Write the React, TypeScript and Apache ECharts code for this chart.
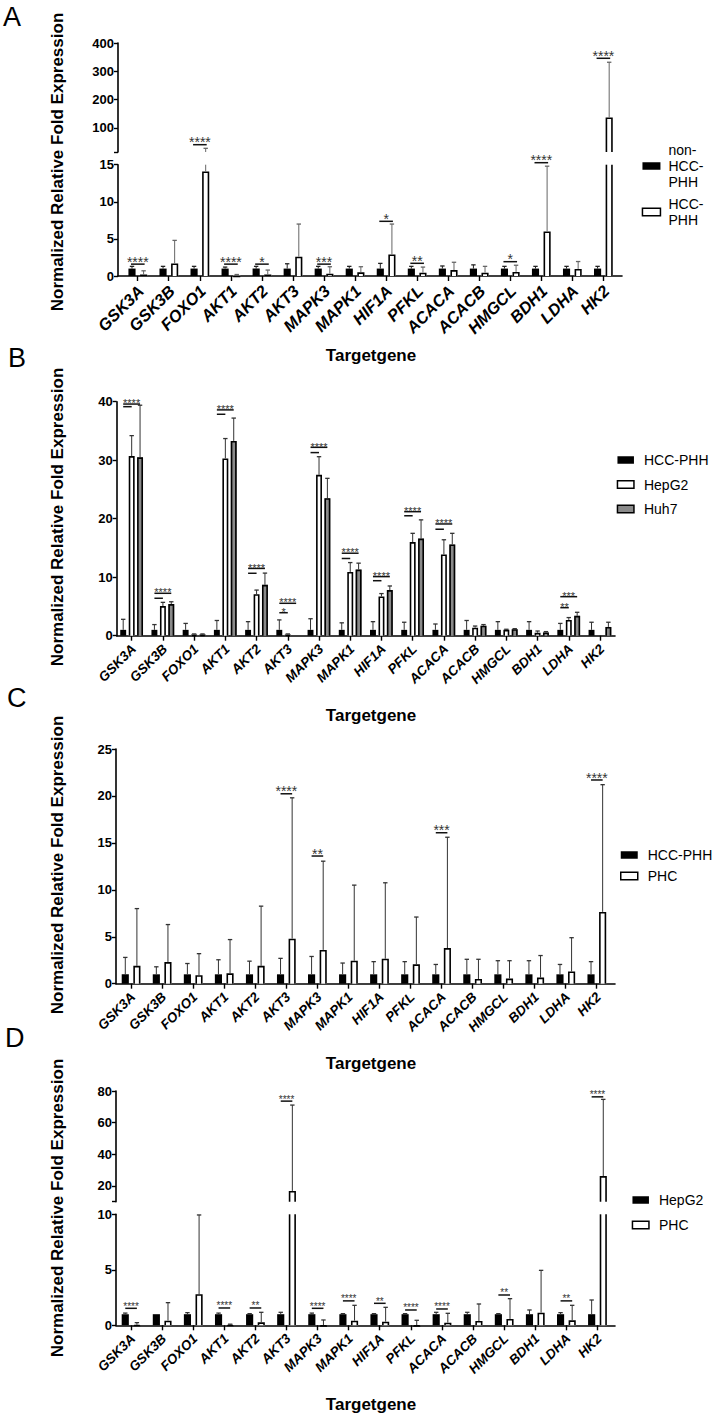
import React, { useEffect, useRef } from 'react';
import * as echarts from 'echarts';

const categories = ['GSK3A', 'GSK3B', 'FOXO1', 'AKT1', 'AKT2', 'AKT3', 'MAPK3', 'MAPK1', 'HIF1A', 'PFKL', 'ACACA', 'ACACB', 'HMGCL', 'BDH1', 'LDHA', 'HK2'];

// ---------- Panel A ----------
const aNonHccMean = [1, 1, 1, 1, 1, 1, 1, 1, 1, 1, 1, 1, 1, 1, 1, 1];
const aNonHccErr = [1.3, 1.3, 1.3, 1.2, 1.3, 1.65, 1.3, 1.3, 1.7, 1.3, 1.35, 1.5, 1.3, 1.3, 1.3, 1.3];
const aHccMean = [0.2, 1.7, 14.1, 0.05, 0.2, 2.6, 0.3, 0.5, 2.9, 0.45, 0.8, 0.45, 0.55, 6.0, 0.95, 137];
const aHccErr = [0.7, 4.8, 28, 0.2, 0.8, 7.0, 1.25, 1.25, 7.0, 1.2, 1.85, 1.3, 1.45, 14.8, 1.95, 332];
const aSigLower: [number, number, string][] = [[0, 1.6, '****'], [3, 1.6, '****'], [4, 1.6, '*'], [6, 1.6, '***'], [8, 7.37, '*'], [9, 1.71, '**'], [12, 1.93, '*'], [13, 15.27, '****']];
const aSigUpper: [number, number, string][] = [[2, 40.8, '****'], [15, 346, '****']];
const aUpperTicks = [15, 100, 200, 300, 400];
const aUpperLabels = [100, 200, 300, 400];

// ---------- Panel B ----------
const bHccMean = [1, 1, 1, 1, 1, 1, 1, 1, 1, 1, 1, 1, 1, 1, 1, 1];
const bHccErr = [2.8, 1.9, 2.1, 2.6, 2.4, 2.7, 2.9, 2.2, 2.4, 2.3, 2.0, 2.6, 2.4, 2.4, 2.1, 2.3];
const bHepMean = [30.7, 5.07, 0.2, 30.3, 7.1, 0.2, 27.5, 10.9, 6.7, 16.0, 13.9, 1.37, 1.0, 0.5, 2.7, 0];
const bHepErr = [34.2, 5.7, 0.3, 33.7, 7.8, 0.3, 30.6, 12.5, 7.2, 17.5, 16.4, 1.65, 1.1, 0.8, 3.1, 0];
const bHuhMean = [30.5, 5.4, 0.2, 33.3, 8.7, 0, 23.5, 11.3, 7.8, 16.6, 15.6, 1.7, 1.1, 0.55, 3.4, 1.5];
const bHuhErr = [39.4, 5.8, 0.3, 37.2, 10.7, 0, 26.9, 12.4, 8.5, 19.8, 17.5, 1.9, 1.2, 0.7, 4.0, 2.3];
const bSig: [number, number, string, number][] = [
  [0, 39.6, '****', 2], [0, 39.15, '', 1],
  [1, 7.25, '****', 2], [1, 6.4, '', 1],
  [3, 38.6, '****', 2], [3, 37.85, '', 1],
  [4, 11.5, '****', 2], [4, 10.67, '', 1],
  [5, 5.54, '****', 2], [5, 3.93, '*', 1],
  [6, 32.2, '****', 2], [6, 31.3, '', 1],
  [7, 14.1, '****', 2], [7, 13.2, '', 1],
  [8, 10.1, '****', 2], [8, 9.4, '', 1],
  [9, 21.2, '****', 2], [9, 20.5, '', 1],
  [10, 19.1, '****', 2], [10, 18.2, '', 1],
  [14, 6.67, '***', 2], [14, 4.79, '**', 1],
];

// ---------- Panel C ----------
const cHccMean = [1, 1, 1, 1, 1, 1, 1, 1, 1, 1, 1, 1, 1, 1, 1, 1];
const cHccErr = [2.8, 1.8, 2.15, 2.55, 2.4, 2.7, 2.9, 2.2, 2.35, 2.35, 2.05, 2.6, 2.45, 2.45, 2.05, 2.35];
const cPhcMean = [1.9, 2.3, 0.9, 1.1, 1.9, 4.8, 3.6, 2.45, 2.66, 2.06, 3.8, 0.5, 0.55, 0.65, 1.3, 7.65];
const cPhcErr = [8.0, 6.3, 3.2, 4.7, 8.26, 19.8, 13.05, 10.5, 10.75, 7.1, 15.6, 2.6, 2.45, 3.0, 4.9, 21.2];
const cSig: [number, number, string][] = [[5, 20.23, '****'], [6, 13.6, '**'], [10, 16.08, '***'], [15, 21.7, '****']];

// ---------- Panel D ----------
const dHepMean = [1, 1, 1, 1, 1, 1, 1, 1, 1, 1, 1, 1, 1, 1, 1, 1];
const dHepErr = [1.1, 1.0, 1.14, 1.1, 1.05, 1.17, 1.1, 1.05, 1.05, 1.05, 1.17, 1.17, 1.05, 1.38, 1.14, 2.28];
const dPhcMean = [0.05, 0.42, 2.8, 0.05, 0.27, 16.8, 0.02, 0.42, 0.33, 0.02, 0.24, 0.39, 0.57, 1.14, 0.45, 26.2];
const dPhcErr = [0.24, 2.04, 9.94, 0.1, 1.17, 71.1, 0.48, 1.8, 1.62, 0.45, 1.08, 1.92, 2.4, 4.95, 1.8, 74.7];
const dSigLower: [number, number, string][] = [[0, 1.53, '****'], [3, 1.56, '****'], [4, 1.56, '**'], [6, 1.53, '****'], [7, 2.2, '****'], [8, 1.98, '**'], [9, 1.38, '****'], [10, 1.47, '****'], [12, 2.73, '**'], [14, 2.2, '**']];
const dSigUpper: [number, number, string][] = [[5, 73.6, '****'], [15, 76.3, '****']];
const dUpperTicks = [10, 20, 40, 60, 80];
const dUpperLabels = [20, 40, 60, 80];

const legendLabels: Record<string, string> = {
  A_non: 'non-\nHCC-\nPHH', A_hcc: 'HCC-\nPHH',
  B_hcc: 'HCC-PHH', B_hep: 'HepG2', B_huh: 'Huh7',
  C_hcc: 'HCC-PHH', C_phc: 'PHC',
  D_hep: 'HepG2', D_phc: 'PHC',
};

const yTitle = 'Normalized Relative Fold Expression';
const xTitle = 'Targetgene';
const panelLetters = ['A', 'B', 'C', 'D'];

const FONT = '"Liberation Sans", Arial, Helvetica, sans-serif';
const BLACK = '#000';
const WHITE = '#fff';
const GRAY = '#8a8a8a';
const catIdx = categories.map((_, i) => i);

function barSeries(name: string, grid: number, means: number[], errs: number[], yMin: number, yMax: number,
  off: number, wf: number, fill: string, stroke: string | null, errColor: string) {
  return {
    type: 'custom', name, xAxisIndex: grid, yAxisIndex: grid, silent: true, z: 3,
    itemStyle: { color: fill, borderColor: stroke || fill },
    encode: { x: 0, y: 1 },
    data: means.map((m, i) => [i, m, errs[i]]),
    renderItem: (params: any, api: any) => {
      const i = api.value(0), v = api.value(1), e = api.value(2);
      const cw = api.size([1, 0])[0];
      const base = api.coord([i, yMin]);
      const x = base[0] + off * cw;
      const w = wf * cw;
      const yb = base[1];
      const children: any[] = [];
      if (v > yMin) {
        const yt = api.coord([i, Math.min(v, yMax)])[1];
        children.push({ type: 'rect', shape: { x: x - w / 2, y: yt, width: w, height: yb - yt }, style: { fill } });
        if (stroke) {
          const lw = 1.6, h = lw / 2;
          const l = x - w / 2 + h, r = x + w / 2 - h;
          if (v > yMax) {
            children.push({ type: 'line', shape: { x1: l, y1: yb, x2: l, y2: yt }, style: { stroke, lineWidth: lw } });
            children.push({ type: 'line', shape: { x1: r, y1: yb, x2: r, y2: yt }, style: { stroke, lineWidth: lw } });
          } else {
            children.push({ type: 'polyline', shape: { points: [[l, yb], [l, yt + h], [r, yt + h], [r, yb]] }, style: { stroke, lineWidth: lw, fill: 'none' } });
          }
        }
      }
      if (e > v && e > yMin) {
        const from = Math.max(v, yMin), to = Math.min(e, yMax);
        if (to > from) {
          const y1 = api.coord([i, from])[1], y2 = api.coord([i, to])[1];
          children.push({ type: 'line', shape: { x1: x, y1, x2: x, y2 }, style: { stroke: errColor, lineWidth: 1 } });
          if (e <= yMax) children.push({ type: 'line', shape: { x1: x - 2.2, y1: y2, x2: x + 2.2, y2 }, style: { stroke: errColor, lineWidth: 1.3 } });
        }
      }
      return { type: 'group', children };
    },
  };
}

function sigSeries(grid: number, sigs: any[], offs: number[], pad: number, fs: number, dy: number) {
  return {
    type: 'custom', xAxisIndex: grid, yAxisIndex: grid, silent: true, z: 5,
    encode: { x: 0, y: 1 },
    data: sigs.map((s) => [s[0], s[1]]),
    renderItem: (params: any, api: any) => {
      const s = sigs[params.dataIndex];
      const to = s[3] === undefined ? 1 : s[3];
      const i = api.value(0), yv = api.value(1);
      const cw = api.size([1, 0])[0];
      const p = api.coord([i, yv]);
      const x1 = p[0] + offs[0] * cw - pad, x2 = p[0] + offs[to] * cw + pad;
      const children: any[] = [
        { type: 'line', shape: { x1, y1: p[1], x2, y2: p[1] }, style: { stroke: '#111', lineWidth: 1.5 } },
      ];
      if (s[2]) {
        children.push({ type: 'text', x: (x1 + x2) / 2, y: p[1] - dy, style: { text: s[2], fontSize: fs, fontFamily: FONT, fill: '#333', align: 'center', verticalAlign: 'middle' } });
      }
      return { type: 'group', children };
    },
  };
}

function xAxisFor(grid: number, min: number, max: number, show: boolean) {
  return {
    type: 'value', gridIndex: grid, min, max, show,
    axisLine: { show: true, onZero: false, lineStyle: { color: BLACK, width: 1.6 } },
    axisTick: { show: true, customValues: catIdx, length: 5, lineStyle: { color: BLACK, width: 1.4 } },
    axisLabel: { show: false },
    splitLine: { show: false },
  };
}

function yAxisFor(grid: number, min: number, max: number, interval?: number, ticks?: number[], labels?: number[]) {
  const ax: any = {
    type: 'value', gridIndex: grid, min, max,
    axisLine: { show: true, onZero: false, lineStyle: { color: BLACK, width: 1.6 } },
    axisTick: { show: true, length: 4, lineStyle: { color: BLACK, width: 1.4 } },
    axisLabel: { margin: 4, fontSize: 13, fontWeight: 'bold', color: BLACK, fontFamily: FONT },
    splitLine: { show: false },
  };
  if (interval !== undefined) ax.interval = interval;
  if (ticks) ax.axisTick.customValues = ticks;
  if (labels) ax.axisLabel.customValues = labels;
  return ax;
}

function legendFor(items: { name: string; style: any }[], left: number, top: number, itemWidth: number, itemHeight: number, itemGap: number, lineHeight: number, textPad: number) {
  return {
    orient: 'vertical', left, top, itemWidth, itemHeight, itemGap, padding: 0, selectedMode: false,
    data: items.map((it) => ({ name: it.name, icon: 'rect', itemStyle: it.style })),
    formatter: (n: string) => legendLabels[n] || n,
    textStyle: { fontSize: 14, lineHeight, fontFamily: FONT, color: BLACK, padding: [0, 0, 0, textPad] },
  };
}

const blackStyle = { color: BLACK, borderWidth: 0 };
const whiteStyle = { color: WHITE, borderColor: BLACK, borderWidth: 1.5 };
const grayStyle = { color: GRAY, borderColor: BLACK, borderWidth: 1.5 };

export default function App() {
  const ref = useRef<HTMLDivElement>(null);
  useEffect(() => {
    document.body.style.margin = '0';
    if (!ref.current) return;
    const chart = echarts.init(ref.current, undefined, { renderer: 'svg' });

    const pA = { min: -0.635, max: 15.603, left: 118, width: 504 };
    const pB = { min: -0.48, max: 15.48, left: 116.7, width: 498.3 };
    const pC = { min: -0.483, max: 15.588, left: 116, width: 499 };
    const pD = { min: -0.482, max: 15.567, left: 116, width: 499 };

    const two = [-0.184, 0.19];
    const three = [-0.272, 0, 0.268];
    const wf2 = 0.23;
    const wf3 = 0.19;

    const option: any = {
      animation: false,
      grid: [
        { left: pA.left, top: 43, width: pA.width, height: 109 },
        { left: pA.left, top: 164.7, width: pA.width, height: 111.3 },
        { left: pB.left, top: 401.7, width: pB.width, height: 234 },
        { left: pC.left, top: 749, width: pC.width, height: 234.7 },
        { left: pD.left, top: 1091, width: pD.width, height: 110.7 },
        { left: pD.left, top: 1214.3, width: pD.width, height: 111 },
      ],
      xAxis: [
        xAxisFor(0, pA.min, pA.max, false),
        xAxisFor(1, pA.min, pA.max, true),
        xAxisFor(2, pB.min, pB.max, true),
        xAxisFor(3, pC.min, pC.max, true),
        xAxisFor(4, pD.min, pD.max, false),
        xAxisFor(5, pD.min, pD.max, true),
      ],
      yAxis: [
        yAxisFor(0, 15, 400, undefined, aUpperTicks, aUpperLabels),
        yAxisFor(1, 0, 15, 5),
        yAxisFor(2, 0, 40, 10),
        yAxisFor(3, 0, 25, 5),
        yAxisFor(4, 10, 80, undefined, dUpperTicks, dUpperLabels),
        yAxisFor(5, 0, 10, 5),
      ],
      legend: [
        legendFor([{ name: 'A_non', style: blackStyle }, { name: 'A_hcc', style: whiteStyle }], 641.7, 142, 18, 7.5, 6, 16, 3),
        legendFor([{ name: 'B_hcc', style: blackStyle }, { name: 'B_hep', style: whiteStyle }, { name: 'B_huh', style: grayStyle }], 616.7, 453, 16.5, 7.5, 10.5, 14, 5),
        legendFor([{ name: 'C_hcc', style: blackStyle }, { name: 'C_phc', style: whiteStyle }], 620, 848, 17, 7.5, 7, 14, 5),
        legendFor([{ name: 'D_hep', style: blackStyle }, { name: 'D_phc', style: whiteStyle }], 631.7, 1193, 16.5, 7.5, 11, 14, 5),
      ],
      series: [
        barSeries('A_non', 0, aNonHccMean, aNonHccErr, 15, 400, two[0], wf2, BLACK, null, '#222'),
        barSeries('A_hcc', 0, aHccMean, aHccErr, 15, 400, two[1], wf2, WHITE, BLACK, '#666'),
        barSeries('A_non', 1, aNonHccMean, aNonHccErr, 0, 15, two[0], wf2, BLACK, null, '#222'),
        barSeries('A_hcc', 1, aHccMean, aHccErr, 0, 15, two[1], wf2, WHITE, BLACK, '#666'),
        sigSeries(0, aSigUpper, two, 1, 14, 2.6),
        sigSeries(1, aSigLower, two, 1, 14, 2.6),
        barSeries('B_hcc', 2, bHccMean, bHccErr, 0, 40, three[0], wf3, BLACK, null, '#333'),
        barSeries('B_hep', 2, bHepMean, bHepErr, 0, 40, three[1], wf3, WHITE, BLACK, '#333'),
        barSeries('B_huh', 2, bHuhMean, bHuhErr, 0, 40, three[2], wf3, GRAY, BLACK, '#333'),
        sigSeries(2, bSig, three, 0, 11, 0.8),
        barSeries('C_hcc', 3, cHccMean, cHccErr, 0, 25, two[0], wf2, BLACK, null, '#333'),
        barSeries('C_phc', 3, cPhcMean, cPhcErr, 0, 25, two[1], wf2, WHITE, BLACK, '#333'),
        sigSeries(3, cSig, two, 0, 14, 2.3),
        barSeries('D_hep', 4, dHepMean, dHepErr, 10, 80, two[0], wf2, BLACK, null, '#333'),
        barSeries('D_phc', 4, dPhcMean, dPhcErr, 10, 80, two[1], wf2, WHITE, BLACK, '#333'),
        barSeries('D_hep', 5, dHepMean, dHepErr, 0, 10, two[0], wf2, BLACK, null, '#333'),
        barSeries('D_phc', 5, dPhcMean, dPhcErr, 0, 10, two[1], wf2, WHITE, BLACK, '#333'),
        sigSeries(4, dSigUpper, two, 0, 10, 2.1),
        sigSeries(5, dSigLower, two, 0, 10, 2.1),
      ],
    };

    const graphic: any[] = [
      { type: 'text', x: 3, y: 17, style: { text: panelLetters[0], fontSize: 27, fontFamily: FONT, fill: BLACK, align: 'left', verticalAlign: 'middle' } },
      { type: 'text', x: 8, y: 358, style: { text: panelLetters[1], fontSize: 27, fontFamily: FONT, fill: BLACK, align: 'left', verticalAlign: 'middle' } },
      { type: 'text', x: 7, y: 698, style: { text: panelLetters[2], fontSize: 27, fontFamily: FONT, fill: BLACK, align: 'left', verticalAlign: 'middle' } },
      { type: 'text', x: 5, y: 1038, style: { text: panelLetters[3], fontSize: 27, fontFamily: FONT, fill: BLACK, align: 'left', verticalAlign: 'middle' } },
      ...[162, 517, 865, 1208].map((yc) => ({
        type: 'text', x: 57.5, y: yc, rotation: Math.PI / 2,
        style: { text: yTitle, fontSize: 17, fontWeight: 'bold', fontFamily: FONT, fill: BLACK, align: 'center', verticalAlign: 'middle' },
      })),
      ...[355, 715, 1063, 1404].map((yc) => ({
        type: 'text', x: 371, y: yc,
        style: { text: xTitle, fontSize: 17, fontWeight: 'bold', fontFamily: FONT, fill: BLACK, align: 'center', verticalAlign: 'middle' },
      })),
    ];
    option.graphic = graphic;
    chart.setOption(option);

    // rotated category labels, positioned through each grid's x scale
    const labelSpecs = [
      { grid: 1, fs: 16.5, dx: 3, dy: 12 },
      { grid: 2, fs: 13.5, dx: 2, dy: 11 },
      { grid: 3, fs: 13.5, dx: 2, dy: 11 },
      { grid: 5, fs: 13.5, dx: 2, dy: 11 },
    ];
    const labelGraphic: any[] = [];
    labelSpecs.forEach((spec) => {
      categories.forEach((name, i) => {
        const p = chart.convertToPixel({ xAxisIndex: spec.grid, yAxisIndex: spec.grid } as any, [i, 0]) as number[];
        labelGraphic.push({
          type: 'text', x: p[0] + spec.dx, y: p[1] + spec.dy, rotation: Math.PI / 4,
          style: { text: name, fontSize: spec.fs, fontWeight: 'bold', fontStyle: 'italic', fontFamily: FONT, fill: BLACK, align: 'right', verticalAlign: 'middle' },
        });
      });
    });
    chart.setOption({ graphic: [...graphic, ...labelGraphic] });
    return () => chart.dispose();
  }, []);
  return <div ref={ref} style={{ width: 714, height: 1420 }} />;
}
